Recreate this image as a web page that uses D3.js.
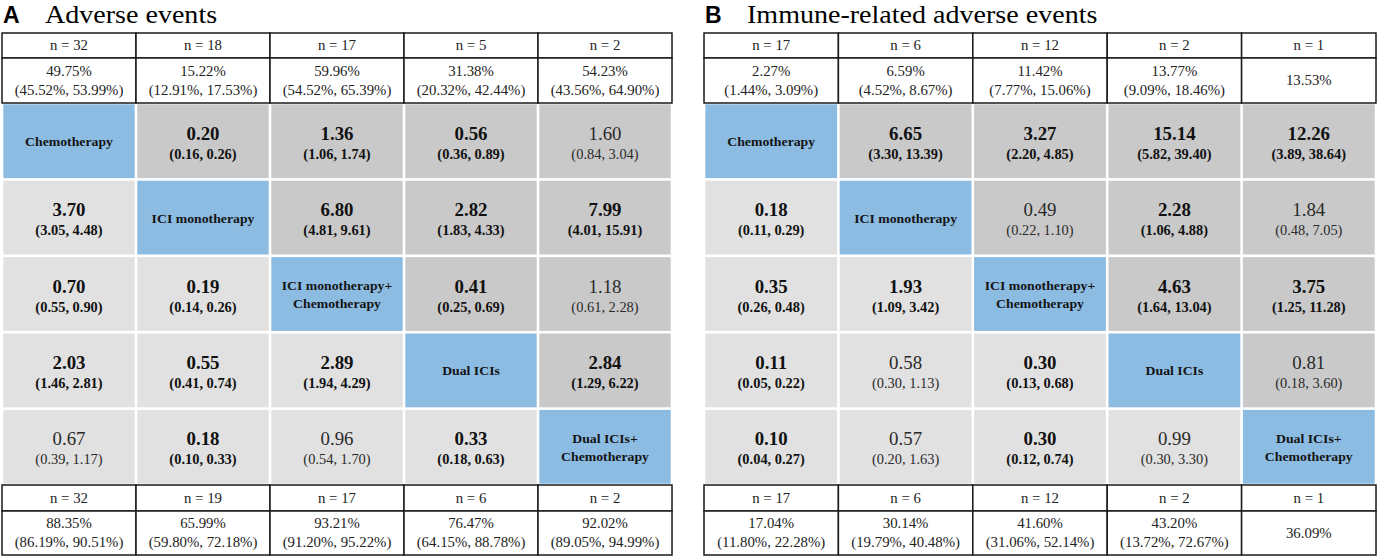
<!DOCTYPE html>
<html><head><meta charset="utf-8">
<script src="https://cdn.jsdelivr.net/npm/d3@7/dist/d3.min.js"></script>
<style>html,body{margin:0;padding:0;background:#fff;}svg{display:block;}</style>
</head><body><svg id="c" width="1378" height="558"></svg>
<script>
// ---------- DATA ----------
const treatments = ["Chemotherapy","ICI monotherapy","ICI monotherapy+\nChemotherapy","Dual ICIs","Dual ICIs+\nChemotherapy"];

// Panel A: Adverse events
const titleA = "Adverse events";
const nTopA = [32,18,17,5,2];
const pctTopA = [49.75,15.22,59.96,31.38,54.23];
const ciTopA = [[45.52,53.99],[12.91,17.53],[54.52,65.39],[20.32,42.44],[43.56,64.90]];
const nBotA = [32,19,17,6,2];
const pctBotA = [88.35,65.99,93.21,76.47,92.02];
const ciBotA = [[86.19,90.51],[59.80,72.18],[91.20,95.22],[64.15,88.78],[89.05,94.99]];
// matrix [estimate, lower, upper], null on diagonal
const estA = [
  [null,0.20,1.36,0.56,1.60],
  [3.70,null,6.80,2.82,7.99],
  [0.70,0.19,null,0.41,1.18],
  [2.03,0.55,2.89,null,2.84],
  [0.67,0.18,0.96,0.33,null]];
const loA = [
  [null,0.16,1.06,0.36,0.84],
  [3.05,null,4.81,1.83,4.01],
  [0.55,0.14,null,0.25,0.61],
  [1.46,0.41,1.94,null,1.29],
  [0.39,0.10,0.54,0.18,null]];
const hiA = [
  [null,0.26,1.74,0.89,3.04],
  [4.48,null,9.61,4.33,15.91],
  [0.90,0.26,null,0.69,2.28],
  [2.81,0.74,4.29,null,6.22],
  [1.17,0.33,1.70,0.63,null]];
const sigA = [
  [0,1,1,1,0],
  [1,0,1,1,1],
  [1,1,0,1,0],
  [1,1,1,0,1],
  [0,1,0,1,0]];

// Panel B: Immune-related adverse events
const titleB = "Immune-related adverse events";
const nTopB = [17,6,12,2,1];
const pctTopB = [2.27,6.59,11.42,13.77,13.53];
const ciTopB = [[1.44,3.09],[4.52,8.67],[7.77,15.06],[9.09,18.46],null];
const nBotB = [17,6,12,2,1];
const pctBotB = [17.04,30.14,41.60,43.20,36.09];
const ciBotB = [[11.80,22.28],[19.79,40.48],[31.06,52.14],[13.72,72.67],null];
const estB = [
  [null,6.65,3.27,15.14,12.26],
  [0.18,null,0.49,2.28,1.84],
  [0.35,1.93,null,4.63,3.75],
  [0.11,0.58,0.30,null,0.81],
  [0.10,0.57,0.30,0.99,null]];
const loB = [
  [null,3.30,2.20,5.82,3.89],
  [0.11,null,0.22,1.06,0.48],
  [0.26,1.09,null,1.64,1.25],
  [0.05,0.30,0.13,null,0.18],
  [0.04,0.20,0.12,0.30,null]];
const hiB = [
  [null,13.39,4.85,39.40,38.64],
  [0.29,null,1.10,4.88,7.05],
  [0.48,3.42,null,13.04,11.28],
  [0.22,1.13,0.68,null,3.60],
  [0.27,1.63,0.74,3.30,null]];
const sigB = [
  [0,1,1,1,1],
  [1,0,0,1,0],
  [1,1,0,1,1],
  [1,0,1,0,0],
  [1,0,1,0,0]];

// ---------- DRAW ----------
const svg = d3.select("#c");
const SERIF = "Liberation Serif, Times New Roman, serif";
const SANS = "Liberation Sans, Arial, sans-serif";
const colors = {diag:"#8dbce3", upper:"#c9c9c9", lower:"#e1e1e1"};
const f2 = d => d.toFixed(2);

function txt(g, x, y, s, size, weight, fill, sx) {
  g.append("text")
    .attr("transform", `translate(${x},${y}) scale(${sx},1)`)
    .attr("text-anchor","middle")
    .style("font-family", SERIF)
    .style("font-size", size + "px")
    .style("font-weight", weight||"normal")
    .attr("fill", fill||"#111")
    .text(s);
}

function panel(opt) {
  const g = svg.append("g");
  const x = d3.scaleBand().domain(d3.range(5)).range([opt.x0, opt.x1]);
  const yM = d3.scaleBand().domain(d3.range(5)).range([103, 485]);
  const bw = x.bandwidth(), bh = yM.bandwidth();

  // title
  g.append("text").attr("x", opt.x0 + 1).attr("y", 23)
    .style("font-family", SANS).style("font-weight","bold").style("font-size", "23px")
    .attr("fill","#000").text(opt.letter);
  g.append("text")
    .attr("transform", `translate(${opt.x0 + 43},23) scale(1.1,1)`)
    .style("font-family", SERIF).style("font-size", "25.5px").attr("fill","#000")
    .text(opt.title);

  // header / footer blocks
  const blocks = [
    {y0:33, y1:58, y2:103, n:opt.nTop, pct:opt.pctTop, ci:opt.ciTop},
    {y0:485, y1:511, y2:555, n:opt.nBot, pct:opt.pctBot, ci:opt.ciBot}
  ];
  blocks.forEach(b => {
    const cells = g.append("g");
    d3.range(5).forEach(i => {
      cells.append("rect").attr("x", x(i)).attr("y", b.y0).attr("width", bw).attr("height", b.y1-b.y0)
        .attr("fill","#fff").attr("stroke","#1a1a1a").attr("stroke-width",1.5);
      cells.append("rect").attr("x", x(i)).attr("y", b.y1).attr("width", bw).attr("height", b.y2-b.y1)
        .attr("fill","#fff").attr("stroke","#1a1a1a").attr("stroke-width",1.5);
      const cx = x(i) + bw/2;
      const nc = (b.y0+b.y1)/2;
      txt(cells, cx, nc + 4.6, "n = " + b.n[i], 14, "normal", "#222", 1.06);
      const pc = (b.y1+b.y2)/2;
      if (b.ci[i]) {
        txt(cells, cx, pc - 5, f2(b.pct[i]) + "%", 14, "normal", "#222", 1.06);
        txt(cells, cx, pc + 14, "(" + f2(b.ci[i][0]) + "%, " + f2(b.ci[i][1]) + "%)", 14, "normal", "#222", 1.06);
      } else {
        txt(cells, cx, pc + 4.6, f2(b.pct[i]) + "%", 14, "normal", "#222", 1.06);
      }
    });
  });

  // matrix
  const gap = 1.3;
  d3.range(5).forEach(r => {
    d3.range(5).forEach(c => {
      const fill = r === c ? colors.diag : (c > r ? colors.upper : colors.lower);
      g.append("rect")
        .attr("x", x(c) + gap).attr("y", yM(r) + gap)
        .attr("width", bw - 2*gap).attr("height", bh - 2*gap)
        .attr("fill", fill);
      const cx = x(c) + bw/2, cy = yM(r) + bh/2;
      if (r === c) {
        const lines = treatments[r].split("\n");
        if (lines.length === 1) {
          txt(g, cx, cy + 5, lines[0], 13.5, "bold", "#141414", 1.02);
        } else {
          txt(g, cx, cy - 4, lines[0], 13.5, "bold", "#141414", 1.02);
          txt(g, cx, cy + 14, lines[1], 13.5, "bold", "#141414", 1.02);
        }
      } else {
        const bold = opt.sig[r][c] === 1;
        const w = bold ? "bold" : "normal";
        const col = bold ? "#111" : "#2a2a2a";
        txt(g, cx, cy - 1.5, f2(opt.est[r][c]), 18.5, w, col, 1.02);
        txt(g, cx, cy + 17.5, "(" + f2(opt.lo[r][c]) + ", " + f2(opt.hi[r][c]) + ")", 14, w, col, 1.03);
      }
    });
  });
}

panel({letter:"A", title:titleA, x0:2, x1:672,
  nTop:nTopA, pctTop:pctTopA, ciTop:ciTopA, nBot:nBotA, pctBot:pctBotA, ciBot:ciBotA,
  est:estA, lo:loA, hi:hiA, sig:sigA});
panel({letter:"B", title:titleB, x0:704, x1:1376,
  nTop:nTopB, pctTop:pctTopB, ciTop:ciTopB, nBot:nBotB, pctBot:pctBotB, ciBot:ciBotB,
  est:estB, lo:loB, hi:hiB, sig:sigB});
</script></body></html>
